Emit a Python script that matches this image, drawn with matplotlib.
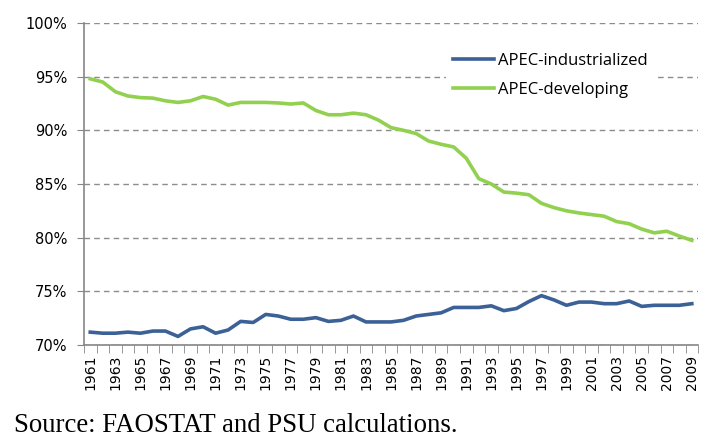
import matplotlib.pyplot as plt
import numpy as np

years = list(range(1961, 2010))

industrialized = [
    71.2, 71.1, 71.1, 71.2, 71.1, 71.3, 71.3, 70.8, 71.5, 71.7,
    71.1, 71.4, 72.2, 72.1, 72.85, 72.7, 72.4, 72.4, 72.55, 72.2,
    72.3, 72.7, 72.15, 72.15, 72.15, 72.3, 72.7, 72.85, 73.0, 73.5,
    73.5, 73.5, 73.65, 73.2, 73.4, 74.05, 74.6, 74.2, 73.7, 74.0,
    74.0, 73.85, 73.85, 74.1, 73.6, 73.7, 73.7, 73.7, 73.85,
]

developing = [
    94.8, 94.5, 93.6, 93.2, 93.05, 93.0, 92.75, 92.6, 92.75, 93.15,
    92.9, 92.35, 92.6, 92.6, 92.6, 92.55, 92.45, 92.55, 91.85, 91.45,
    91.45, 91.6, 91.45, 90.95, 90.25, 90.0, 89.7, 89.0, 88.7, 88.45,
    87.4, 85.5, 85.0, 84.25, 84.15, 84.0, 83.2, 82.8, 82.5, 82.3,
    82.15, 82.0, 81.5, 81.3, 80.8, 80.45, 80.6, 80.15, 79.75,
]

x = np.arange(len(years))

fig = plt.figure(figsize=(7.16, 4.37), dpi=100)
ax = fig.add_axes([0.1173, 0.2105, 0.8577, 0.7369])

ax.plot(x, industrialized, color='#3C6196', lw=2.6, label='APEC-industrialized',
        solid_joinstyle='round', zorder=3)
ax.plot(x, developing, color='#92D050', lw=2.6, label='APEC-developing',
        solid_joinstyle='round', zorder=3)

ax.set_xlim(-0.5, len(years) - 0.5)
ax.set_ylim(70, 100)

yt = np.arange(70, 101, 5)
ax.set_yticks(yt)
ax.set_yticklabels([f'{v}%' for v in yt], fontsize=10.5, family='DejaVu Sans')
ax.yaxis.grid(True, linestyle=(0, (4, 3)), color='#8c8c8c', lw=1)
ax.set_axisbelow(True)

ax.set_xticks(x[::2])
ax.set_xticklabels([str(y) for y in years[::2]], rotation=90, fontsize=10,
                   family='DejaVu Sans')
ax.set_xticks(np.arange(len(years) + 1) - 0.5, minor=True)
ax.tick_params(axis='x', which='major', length=0, pad=7)
ax.tick_params(axis='x', which='minor', length=6, color='#868686')
ax.tick_params(axis='y', length=5, color='#868686', pad=7)

for s in ['top', 'right']:
    ax.spines[s].set_visible(False)
for s in ['left', 'bottom']:
    ax.spines[s].set_color('#868686')
    ax.spines[s].set_linewidth(1.2)

leg = ax.legend(loc='center left', bbox_to_anchor=(446 / 716, 1 - 75.5 / 437),
                bbox_transform=fig.transFigure, borderaxespad=0, frameon=True,
                handlelength=2.45, handletextpad=0.25, labelspacing=0.75,
                prop={'family': 'Open Sans', 'size': 12})
leg.get_frame().set_edgecolor('none')
leg.get_frame().set_facecolor('white')
leg.get_frame().set_alpha(1)

fig.text(0.02, 0.012, 'Source: FAOSTAT and PSU calculations.',
         family='Liberation Serif', fontsize=19.3, va='baseline')

fig.savefig('out.png', dpi=100)
